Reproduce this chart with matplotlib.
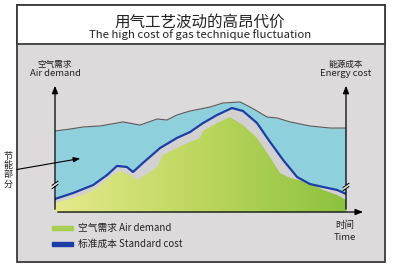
import numpy as np
import matplotlib
matplotlib.use('Agg')
import matplotlib.pyplot as plt
from matplotlib.patches import Rectangle
from matplotlib.colors import LinearSegmentedColormap

plt.rcParams['font.family'] = ['Noto Sans CJK SC', 'DejaVu Sans']

# time axis (0-100) and levels (0-100)
top_t = [0, 5.2, 9.6, 15.5, 23.4, 29.2, 35.1, 38.5, 41.9, 46.4, 49.8, 53.3, 57.7,
         63.6, 67.0, 69.4, 72.9, 76.3, 80.8, 87.6, 94.5, 100]
top_v = [62.8, 64.3, 65.9, 66.7, 69.8, 67.4, 72.1, 71.3, 75.2, 78.3, 79.8, 81.4, 84.5,
         85.3, 81.4, 78.3, 73.6, 72.9, 69.8, 66.7, 65.1, 65.1]

cost_t = [0, 6.2, 13.1, 17.9, 21.3, 24.7, 26.8, 30.2, 36.1, 41.9, 46.4, 50.9, 55.7,
          60.8, 64.6, 69.4, 73.9, 78.4, 83.2, 87.6, 92.1, 96.9, 100]
cost_v = [10.1, 14.7, 20.9, 28.7, 35.7, 34.9, 31.0, 38.0, 49.6, 57.4, 62.0, 69.0, 75.2,
          80.6, 78.3, 69.0, 54.3, 40.3, 27.1, 21.7, 19.4, 17.1, 14.0]

air_t = [0, 9.6, 14.4, 18.9, 22.3, 25.8, 28.2, 31.6, 35.1, 37.1, 41.9, 46.4, 49.8,
         50.9, 55.7, 60.1, 64.6, 69.4, 73.9, 77.3, 80.8, 87.6, 92.1, 96.9, 100]
air_v = [7.0, 13.2, 18.6, 27.1, 31.8, 28.7, 24.8, 29.5, 34.9, 44.2, 49.6, 54.3, 57.4,
         62.8, 69.0, 73.6, 67.4, 57.4, 42.6, 30.2, 26.4, 22.5, 17.1, 13.2, 9.3]

W, H = 397, 269
fig = plt.figure(figsize=(W / 100, H / 100), dpi=100)

# background / frame in pixel coordinates
bg = fig.add_axes([0, 0, 1, 1], zorder=0)
bg.set_xlim(0, W)
bg.set_ylim(H, 0)
bg.axis('off')
bg.add_patch(Rectangle((17, 5), 368, 257, facecolor='#dcdada', edgecolor='#3a3a3a', lw=1.3))
bg.add_patch(Rectangle((17, 5), 368, 39, facecolor='white', edgecolor='#3a3a3a', lw=1.3))

# chart area
ax = fig.add_axes([55 / W, 1 - 212 / H, 291 / W, 129 / H], zorder=1)
ax.set_xlim(0, 100)
ax.set_ylim(0, 100)
ax.patch.set_alpha(0)
for s in ax.spines.values():
    s.set_visible(False)
ax.set_xticks([])
ax.set_yticks([])

ax.fill_between(top_t, 0, top_v, color='#8fd0dd', lw=0)
ax.plot(top_t, top_v, color='#5a5a5a', lw=0.8)
ax.fill_between(cost_t, 0, cost_v, color='#d2d0d0', lw=0)

poly = ax.fill_between(air_t, 0, air_v, color='none', lw=0)
cmap = LinearSegmentedColormap.from_list('g', ['#e6ea8c', '#bcd65e', '#8cc23e'])
grad = np.linspace(0, 1, 256).reshape(1, -1)
im = ax.imshow(grad, extent=[0, 100, 0, 100], aspect='auto', cmap=cmap, zorder=2)
im.set_clip_path(poly.get_paths()[0], transform=ax.transData)

ax.plot(cost_t, cost_v, color='#1c3ea6', lw=1.6, zorder=3)

# axes with arrows
arr = dict(arrowstyle='-|>,head_width=0.18,head_length=0.45', color='black', lw=0.9)
ax.annotate('', xy=(0, 1.0), xytext=(0, 0), xycoords='axes fraction', arrowprops=arr,
            annotation_clip=False, zorder=5)
ax.annotate('', xy=(1, 1.0), xytext=(1, 0), xycoords='axes fraction', arrowprops=arr,
            annotation_clip=False, zorder=5)
ax.annotate('', xy=(1.068, 0), xytext=(0, 0), xycoords='axes fraction', arrowprops=arr,
            annotation_clip=False, zorder=5)

# axis break marks
for bx, by in [(0, 21.0), (100, 19.4)]:
    ax.fill_between([bx - 0.9, bx + 0.9], by - 1.2, by + 1.2, color='#dcdada', lw=0,
                    zorder=6, clip_on=False)
    for d in (-1.3, 1.3):
        ax.plot([bx - 1.0, bx + 1.0], [by + d - 1.6, by + d + 1.6], color='black',
                lw=0.7, zorder=7, clip_on=False)

# texts and overlay
ov = fig.add_axes([0, 0, 1, 1], zorder=3)
ov.set_xlim(0, W)
ov.set_ylim(H, 0)
ov.axis('off')

ov.text(200, 22, '用气工艺波动的高昂代价', ha='center', va='center', fontsize=11.2, color='#222')
ov.text(200, 35, 'The high cost of gas technique fluctuation', ha='center', va='center',
        fontsize=8.2, color='#222')

ov.text(55, 64, '空气需求', ha='center', va='center', fontsize=6.2, color='#222')
ov.text(55, 73, 'Air demand', ha='center', va='center', fontsize=6.8, color='#222')
ov.text(346, 64, '能源成本', ha='center', va='center', fontsize=6.2, color='#222')
ov.text(346, 73, 'Energy cost', ha='center', va='center', fontsize=6.8, color='#222')
ov.text(345, 225, '时间', ha='center', va='center', fontsize=6.8, color='#222')
ov.text(345, 237, 'Time', ha='center', va='center', fontsize=6.8, color='#222')

for i, ch in enumerate('节能部分'):
    ov.text(8, 156 + i * 9.3, ch, ha='center', va='center', fontsize=6.5, color='#222')
ov.annotate('', xy=(83, 158), xytext=(14, 170),
            arrowprops=dict(arrowstyle='-|>,head_width=0.15,head_length=0.4',
                            color='black', lw=0.8))

# legend
ov.add_patch(Rectangle((52, 226), 21, 4, color='#a8cf4e'))
ov.text(78, 228, '空气需求 Air demand', va='center', fontsize=7, color='#222')
ov.add_patch(Rectangle((52, 242), 21, 4, color='#1c3ea6'))
ov.text(78, 244, '标准成本 Standard cost', va='center', fontsize=7, color='#222')

fig.savefig('out.png', dpi=100)
